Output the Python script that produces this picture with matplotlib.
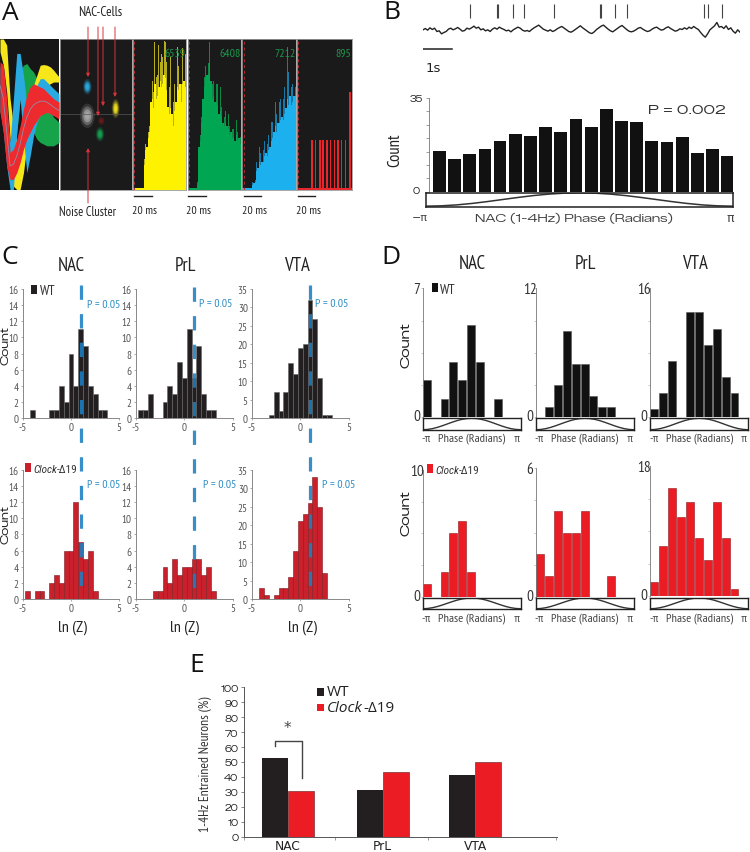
import matplotlib
matplotlib.use("Agg")
import matplotlib.pyplot as plt
from matplotlib.patches import Rectangle, Ellipse
import numpy as np
import logging
logging.getLogger('matplotlib.font_manager').setLevel(logging.ERROR)

W, H = 750, 853
NARROW = ['PT Sans Narrow', 'Liberation Sans', 'DejaVu Sans']
NARROW_IT = ['Roboto Condensed', 'Liberation Sans', 'DejaVu Sans']
WIDE = ['DejaVu Sans']
EXPANDED = ['Zalando Sans Expanded', 'DejaVu Sans']
PLAIN = ['Open Sans', 'Liberation Sans', 'DejaVu Sans']
BLACK = '#231f20'
RED_C = '#c9202b'
RED_D = '#ec1c24'
BLUE = '#2b8cc4'

# ---------------- data ----------------
yellow_peak = [1,1,1,1,1,1,1,1,20,30,32,38,42,75,72,65,98,75,76,96,85,90,88,99,98,85,75,68,88,70,58,70,72,95,82,88,70,94,96,90]
yellow_body = [1,1,1,1,1,1,1,1,16,26,28,34,38,58,60,54,70,60,62,68,72,68,70,76,74,66,55,50,54,50,42,52,58,68,66,70,58,70,72,68]
green_peak = [1,1,1,1,1,1,1,5,32,36,48,68,75,82,84,84,98,88,70,72,68,70,70,58,68,55,50,48,52,50,50,42,46,40,40,38,46,38,50,35]
green_body = [1,1,1,1,1,1,1,3,28,32,44,60,68,74,76,76,84,72,60,62,58,58,56,50,52,48,44,42,44,42,40,36,38,34,34,32,36,32,34,30]
blue_peak = [1,1,1,1,1,1,1,5,5,6,18,22,28,24,30,26,32,35,30,36,38,45,45,55,58,50,62,58,60,62,60,68,75,95,78,90,68,70,80,68]
blue_body = [1,1,1,1,1,1,1,3,4,5,12,14,18,16,18,18,22,24,22,26,28,32,34,38,42,38,44,44,46,48,46,50,54,60,56,62,56,58,62,62]
red_peak = [1,1,1,1,1,1,1,1,1,1,33,33,1,33,1,33,33,33,33,33,33,33,33,65,33,1,33,33,1,33,33,33,33,1,98,33,1,33,65,65]
red_body = [1]*40
acg_labels = ['6539', '6408', '7212', '895']

raster_times = [272,352,355,401,432,523,660,665,705,742,974,985,1027]
lfp = [2,6,1,8,3,7,-3,-1,-10,-6,-3,4,7,2,5,9,4,-2,0,7,4,8,13,7,10,2,5,-1,2,-3,4,8,4,10,6,3,-1,1,-4,2,6,10,7,1,-2,0,-3,3,8,12,16,10,4,1,-2,2,-3,0,5,9,12,7,
       2,-3,-5,-1,4,9,14,8,3,-2,-7,-9,-4,3,8,13,16,10,4,-1,-4,1,6,11,15,9,3,-2,-4,-2,2,7,9,4,0,-3,-1,4,8,10,5,1,3,8,11,6,2,-2,0,5,3,8,4,10,6,12,7,3,-6,-14,-20,-10,2,8,14,24,10,12,6,14,3,8,-2,-8,2,-5]

phase_counts = [15.2,12.2,14.1,16.1,18.8,21.4,20.9,24.3,22.2,27.0,24.3,30.9,26.5,25.9,19.0,18.7,20.4,14.6,15.8,13.5]
phase_curve = [-1,-.95,-.81,-.59,-.31,0,.31,.59,.81,.95,1,.95,.81,.59,.31,0,-.31,-.59,-.81,-.95,-1]

c_wt_nac_x = [-4,-2,-1.5,-1,-.5,0,.5,1,1.5,2,2.5,3,3.5]
c_wt_nac_y = [1,1,1,4,2,8,4,11,9,4,3,1,1]
c_wt_prl_x = [-4.5,-4,-3.5,-2,-1.5,-1,-.5,0,.5,1,1.5,2,2.5,3]
c_wt_prl_y = [1,1,3,2,4,3,7,5,11,5,9,3,1,1]
c_wt_vta_x = [-3,-2.5,-2,-1.5,-1,-.5,0,.5,1,1.5,2,2.5,3]
c_wt_vta_y = [1,7,2,7,15,12,19,20,32,27,11,1,1]
c_ck_nac_x = [-4.5,-3.5,-3,-2,-1.5,-1,-.5,0,.5,1,1.5,2,2.5]
c_ck_nac_y = [1,1,1,2,3,2,6,6,12,7,5,6,1]
c_ck_prl_x = [-3,-2.5,-2,-1.5,-1,-.5,0,.5,1,1.5,2,2.5,3]
c_ck_prl_y = [1,1,4,2,5,3,4,4,5,5,3,4,1]
c_ck_vta_x = [-4,-3.5,-2.5,-2,-1.5,-1,-.5,0,.5,1,1.5,2,2.5]
c_ck_vta_y = [3,1,1,3,3,6,13,21,23,26,33,25,7]
c_yticks_nac = [0,2,4,6,8,10,12,14,16]
c_yticks_vta = [0,5,10,15,20,25,30,35]
threshold_x = 1

d_wt_nac = [2,0,1,3,2,5,3,0,1,0,0]
d_wt_prl = [0,1,3,8,5,5,2,1,1,0,0]
d_wt_vta = [1,3,7,0,13,13,9,11,5,3,0]
d_ck_nac = [1,0,2,5,6,2,0,0,0,0,0]
d_ck_prl = [2,1,4,3,3,4,0,0,1,0,0]
d_ck_vta = [2,7,15,11,13,8,5,13,8,1,0]
d_ymax = {'wn':7,'wp':12,'wv':16,'cn':10,'cp':6,'cv':18}

regions = ['NAC','PrL','VTA']
e_pos = [0, 1.013, 2.0]
e_wt = [52.5, 31, 41.5]
e_clock = [30.5, 43, 50]
e_ticks = [0,10,20,30,40,50,60,70,80,90,100]

# ---------------- helpers ----------------
fig = plt.figure(figsize=(W/100, H/100), dpi=100, facecolor='white')

def ax_px(x0, y0, x1, y1, **kw):
    return fig.add_axes([x0/W, 1-y1/H, (x1-x0)/W, (y1-y0)/H], **kw)

ov = ax_px(0, 0, W, H, zorder=20)
ov.set_xlim(0, W); ov.set_ylim(H, 0); ov.axis('off'); ov.patch.set_alpha(0)

def T(x, y, s, size=8, fam=NARROW, color='#222222', ha='center', va='center', **kw):
    return ov.text(x, y, s, fontsize=size, family=fam, color=color, ha=ha, va=va, **kw)

def clock_label(x, y, size, fam=NARROW_IT, color='#333333'):
    t = T(x, y, 'Clock', size, fam, color, ha='left', style='italic')
    fig.canvas.draw()
    bb = t.get_window_extent()
    T(bb.x1, y, '-\u039419', size, fam, color, ha='left')

# panel letters
for (x, y, s) in [(10,13,'A'),(392,12,'B'),(10,257,'C'),(391,257,'D'),(197,666,'E')]:
    T(x, y, s, 19, PLAIN, '#111111')

# ---------------- Panel A ----------------
a1 = ax_px(0, 40, 59, 190.5); a1.set_xlim(0, 176); a1.set_ylim(570, 122)
a1.set_facecolor('#161616'); a1.set_xticks([]); a1.set_yticks([])
wx = [0,10,20,30,40,50,60,70,80,90,100,110,120,130,140,150,160,176]
green_up = [330,340,400,480,470,330,215,200,195,210,220,240,260,290,320,340,355,370]
green_lo = [340,350,420,520,520,400,300,330,360,390,400,420,430,435,440,440,440,430]
yellow_up = [122,122,140,300,380,430,440,420,300,280,260,230,200,198,200,205,215,235]
yellow_lo = [160,200,280,420,560,570,570,520,440,420,400,330,260,262,262,255,250,250]
blue_up = [200,260,330,430,300,165,165,230,320,350,310,260,240,240,250,260,270,285]
blue_lo = [330,400,500,570,570,400,300,420,520,470,410,370,350,340,340,345,350,350]
red_up = [190,200,300,460,450,420,380,330,290,265,255,260,265,270,280,290,300,310]
red_lo = [340,400,500,540,540,520,490,450,420,400,380,365,350,345,340,345,350,360]
for up, lo, c in [(green_up,green_lo,'#16a34a'),(yellow_up,yellow_lo,'#f5e71a'),(blue_up,blue_lo,'#29abe2'),(red_up,red_lo,'#ed2a2e')]:
    a1.fill_between(wx, up, lo, color=c, lw=0)
wave_mean = [260,300,400,500,495,470,435,390,355,332,318,312,307,307,310,317,325,335]
a1.plot(wx, wave_mean, color='#8e8ea8', lw=.6)
for s in a1.spines.values(): s.set_visible(False)

a2 = ax_px(60, 40, 132, 191); a2.set_xlim(180, 396); a2.set_ylim(572, 120)
a2.set_facecolor('#1b1a1b'); a2.set_xticks([]); a2.set_yticks([])
a2.axhline(345, color='#555555', lw=.5)
blob_x = [262, 262, 347, 304, 300]
blob_y = [263, 350, 328, 365, 405]
blob_w = [20, 34, 18, 16, 20]
blob_h = [36, 56, 44, 20, 34]
blob_c = ['#29abe2', '#a8a8a8', '#f0e020', '#6b1a1a', '#12a150']
for bxx, byy, bww, bhh, bcc in zip(blob_x, blob_y, blob_w, blob_h, blob_c):
    for f, al in [(1.3,.18),(1.0,.4),(.7,.7),(.4,.9)]:
        a2.add_patch(Ellipse((bxx,byy), bww*f, bhh*f, color=bcc, alpha=al, lw=0))
for s in a2.spines.values(): s.set_color('#999999'); s.set_linewidth(.6)

acg = [(133,186,yellow_peak,yellow_body,'#fff200','#b5ad1e'),(187.5,241,green_peak,green_body,'#00a651','#0b8a44'),
       (242.5,296,blue_peak,blue_body,'#1cb0ee','#1679a8'),(297,351.5,red_peak,red_body,'#e8262b','#e8262b')]
for (x0,x1,pk,bd,c,c2),lab in zip(acg, acg_labels):
    a = ax_px(x0, 40, x1, 190.5)
    a.set_xlim(0, 40); a.set_ylim(0, 100); a.set_facecolor('#1b1a1b')
    a.set_xticks([]); a.set_yticks([])
    a.bar(np.arange(40)+.5, pk, width=.55, color=c2, lw=0)
    a.bar(np.arange(40)+.5, bd, width=1.0, color=c, lw=0)
    a.axvline(1, color='#b0282c', lw=.7, ls=(0,(3,3)))
    a.text(39.5, 91, lab, color='#1c9a4a', fontsize=8.5, family=NARROW, ha='right', va='center')
    for s in a.spines.values(): s.set_color('#999999'); s.set_linewidth(.6)

T(100, 12, 'NAC-Cells', 9.5)
T(88, 212, 'Noise Cluster', 9)
for tx, (bx0, bx1) in zip([144,199,254,309], [(134,152),(188,206),(244,261),(298,315)]):
    ov.plot([bx0,bx1],[197,197], color='#222222', lw=1)
    T(tx, 211, '20 ms', 8.5)
for x, y0, y1 in [(88,28,78),(98,28,117),(103,28,107),(115,28,98),(88,204,149)]:
    ov.annotate('', xy=(x,y1), xytext=(x,y0),
                arrowprops=dict(arrowstyle='-|>,head_width=.1,head_length=.2', color='#d8343a', lw=.7, shrinkA=0, shrinkB=0))

# ---------------- Panel B ----------------
ax_r = ax_px(423, 3, 740, 60); ax_r.axis('off'); ax_r.set_xlim(130,1081); ax_r.set_ylim(180,10)
ax_r.vlines(raster_times, 15, 57, color='#444444', lw=.8)
ax_r.plot(np.linspace(130,1081,len(lfp)), 95-np.array(lfp), color='#222222', lw=1)
ax_r.plot([131,218],[151,151], color='#222222', lw=1.1)
T(433, 68, '1s', 9.5, WIDE)

b = ax_px(426, 99, 733, 192.7)
b.set_xlim(-np.pi, np.pi); b.set_ylim(0, 35)
bx = -np.pi + .274 + np.arange(20)*.3105
b.bar(bx, phase_counts, width=.262, color='#111111', lw=0)
for s in ['top','right','bottom']: b.spines[s].set_visible(False)
b.spines['left'].set_color('#777777'); b.spines['left'].set_linewidth(.6)
b.spines['left'].set_position(('outward', -2))
b.set_yticks(np.arange(0,36,5)); b.set_xticks([]); b.set_yticklabels([])
b.tick_params(axis='y', length=2.5, width=.5, color='#777777', direction='out')
T(416, 99, '35', 6, EXPANDED); T(416, 191, '0', 6, EXPANDED)
T(395, 150, 'Count', 12, rotation=90)
T(687, 111, 'P = 0.002', 9.7, EXPANDED, '#333333')
T(420, 218, '\u2212\u03c0', 8, WIDE, '#444444'); T(730, 218, '\u03c0', 9, WIDE, '#444444')
T(574, 218, 'NAC (1-4Hz) Phase (Radians)', 8.5, EXPANDED, '#444444')

def phase_box(x0, x1, y0, y1, lw=1.1):
    p = ax_px(x0, y0, x1, y1)
    p.set_xlim(-np.pi, np.pi); p.set_ylim(-1.05, 1.05); p.set_xticks([]); p.set_yticks([])
    p.plot(np.linspace(-np.pi,np.pi,21), phase_curve, color='#333333', lw=lw)
    for s in p.spines.values(): s.set_linewidth(lw); s.set_color('#222222')
phase_box(426, 733, 193.5, 207.5)

# ---------------- Panel C ----------------
def hist_c(x0, y0, y1, xs, ys, ymax, yt, col, edge):
    a = ax_px(x0, y0, x0+96.6, y1)
    a.set_xlim(-5,5); a.set_ylim(0,ymax)
    a.bar(xs, ys, width=.5, color=col, edgecolor=edge, lw=.4)
    for s in ['top','right']: a.spines[s].set_visible(False)
    for s in ['left','bottom']: a.spines[s].set_color('#888888'); a.spines[s].set_linewidth(.7)
    a.set_xticks([-5,0,5]); a.set_xticklabels(['-5','0','5']); a.set_yticks(yt)
    a.tick_params(length=1.5, width=.5, color='#888888', labelsize=8, labelcolor='#555555', pad=1.5)
    for l in a.get_xticklabels()+a.get_yticklabels(): l.set_family(NARROW)
    return a

cx = [22.7, 136, 252]
cols = [(c_wt_nac_x,c_wt_nac_y,c_ck_nac_x,c_ck_nac_y,16,c_yticks_nac),
        (c_wt_prl_x,c_wt_prl_y,c_ck_prl_x,c_ck_prl_y,16,c_yticks_nac),
        (c_wt_vta_x,c_wt_vta_y,c_ck_vta_x,c_ck_vta_y,35,c_yticks_vta)]
for x0,(xw,yw,xc,yc,ym,yt) in zip(cx, cols):
    hist_c(x0, 290, 419.3, xw, yw, ym, yt, BLACK, '#666666')
    hist_c(x0, 470.7, 600, xc, yc, ym, yt, RED_C, '#7c1a20')

for x0, ytop, ybot in zip(cx, [286,287.5,286], [587,589,587.5]):
    xp = x0 + (threshold_x+5)*9.66
    ov.plot([xp,xp],[ytop,ybot], color='#1c7ec2', lw=2.3, alpha=.88,
            dashes=(4.48, 4.48), dash_capstyle='butt')

for x, y, s in [(71,266,'NAC'),(186,266,'PrL'),(297,266,'VTA'),(472,264,'NAC'),(585,264,'PrL'),(695,264,'VTA')]:
    T(x, y, s, 13.5)
for x, y in [(104,305),(216,304),(332,304),(104,485),(220,485),(339,485)]:
    T(x, y, 'P = 0.05', 8.5, NARROW, BLUE)
for x, y in [(72,628),(184,628),(302,628)]:
    T(x, y, 'ln (Z)', 11.5)
for x, y in [(5.5,346),(5.5,525)]:
    T(x, y, 'Count', 8, EXPANDED, rotation=90)
for x, y in [(407,345),(407,513)]:
    T(x, y, 'Count', 9.5, EXPANDED, rotation=90)

ov.add_patch(Rectangle((31,286),6,9,color=BLACK,lw=0))
T(39.5, 291, 'WT', 10, ha='left', color='#333333')
ov.add_patch(Rectangle((25,464),6,9,color=RED_C,lw=0))
clock_label(33, 470, 8)
ov.add_patch(Rectangle((432,284),5.5,9,color='#111111',lw=0))
T(439.5, 290, 'WT', 10, ha='left', color='#333333')
ov.add_patch(Rectangle((427,465),6,9,color=RED_D,lw=0))
clock_label(435, 471, 8)

# ---------------- Panel D ----------------
def hist_d(x0, y0, y1, vals, ymax, col, edge, by0, by1, ly):
    a = ax_px(x0, y0, x0+98, y1)
    a.set_xlim(-np.pi,np.pi); a.set_ylim(0,ymax)
    w = 2*np.pi/11
    e = -np.pi + np.arange(11)*w
    a.bar(e+.45*w, vals, width=.89*w, color=col, edgecolor=edge, lw=.4)
    for s in ['top','right','bottom']: a.spines[s].set_visible(False)
    a.spines['left'].set_color('#777777'); a.spines['left'].set_linewidth(.6)
    a.set_xticks([]); a.set_yticks(np.linspace(0,ymax,5)); a.set_yticklabels([])
    a.tick_params(length=1.2, width=.4, color='#999999')
    T(x0-6, y0+1, str(ymax), 11, color='#333333')
    T(x0-6, y1-1, '0', 11, color='#333333')
    phase_box(x0, x0+98, by0, by1, lw=1)
    T(x0+3.5, ly, '-\u03c0', 8.5, color='#444444')
    T(x0+49, ly, 'Phase (Radians)', 8.8, color='#444444')
    T(x0+94, ly, '\u03c0', 8.5, color='#444444')

dx = [422.7, 536, 650.3]
for x0, v, m in zip(dx, [d_wt_nac,d_wt_prl,d_wt_vta], ['wn','wp','wv']):
    hist_d(x0, 289.3, 418.3, v, d_ymax[m], '#111111', '#555555', 419, 431, 439)
ytops = {'cn':470.7, 'cp':469.3, 'cv':467.3}
for x0, v, m in zip(dx, [d_ck_nac,d_ck_prl,d_ck_vta], ['cn','cp','cv']):
    hist_d(x0, ytops[m], 598 if m!='cv' else 597, v, d_ymax[m], RED_D, '#8c1a20', 598.7, 610, 618.7)

# ---------------- Panel E ----------------
e = ax_px(244, 688.3, 556.7, 837.7)
e.set_xlim(-.47, 2.873); e.set_ylim(0, 100)
barw = .278
e.bar(np.array(e_pos)-barw/2, e_wt, width=barw, color=BLACK, lw=0)
e.bar(np.array(e_pos)+barw/2, e_clock, width=barw, color=RED_D, edgecolor='#5a1a1a', lw=.4)
for s in ['top','right']: e.spines[s].set_visible(False)
for s in ['left','bottom']: e.spines[s].set_color('#555555'); e.spines[s].set_linewidth(.7)
e.set_yticks(e_ticks)
e.set_xticks(e_pos); e.set_xticklabels(regions)
e.set_xticks([-.47,.5,1.5,2.87], minor=True)
e.tick_params(axis='x', which='major', length=0, labelsize=8.8, pad=1.5, labelcolor='#222222')
e.tick_params(axis='x', which='minor', length=2, width=.5, color='#777777')
e.tick_params(axis='y', length=2.5, width=.5, color='#555555', labelsize=6, pad=1.5, labelcolor='#222222')
for l in e.get_yticklabels(): l.set_family(EXPANDED)
T(205, 764, '1-4Hz Entrained Neurons (%)', 9.7, rotation=90, color='#333333')
ov.plot([275,275,302,302],[747,742,742,779], color='#444444', lw=1)
T(287, 728, '*', 11, WIDE, '#444444')
ov.add_patch(Rectangle((317,689),7,7.5,color=BLACK,lw=0))
T(327, 692, 'WT', 11, PLAIN, '#222222', ha='left')
ov.add_patch(Rectangle((317,705),7,7,color=RED_D,lw=0))
clock_label(327, 708, 11, PLAIN, '#222222')

fig.savefig('out.png', dpi=100, facecolor='white')
